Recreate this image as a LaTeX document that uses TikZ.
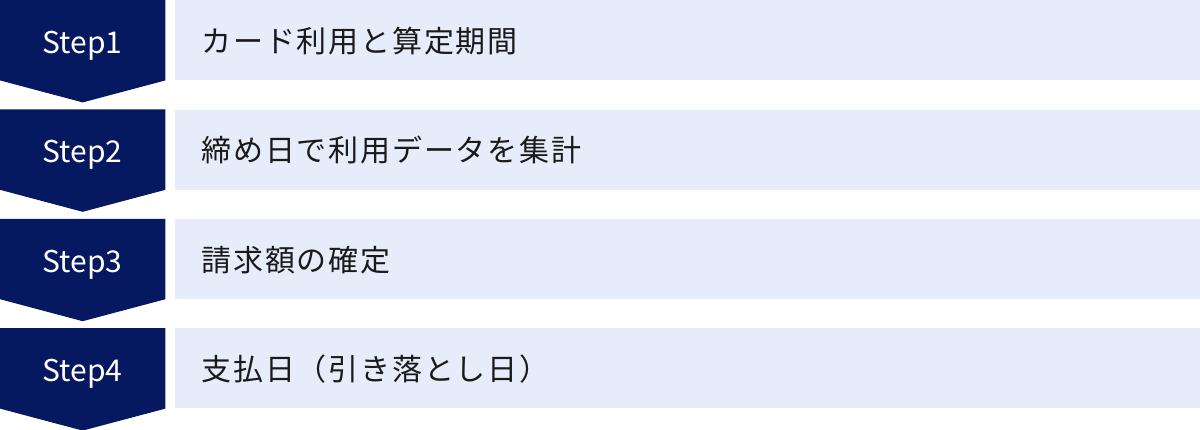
\documentclass[tikz,border=0pt]{standalone}
\usepackage{fontspec}
\setmainfont{Noto Sans CJK JP}
\newfontfamily\labelfont[LetterSpace=6]{Noto Sans CJK JP}
\usepackage{xcolor}
\definecolor{stepNavy}{HTML}{061860}
\definecolor{barLight}{HTML}{E6ECFA}
\definecolor{textDark}{HTML}{1A1A1A}
\usepackage{tikz}
\usetikzlibrary{positioning, calc, backgrounds}

\begin{document}
\begin{tikzpicture}[
    x=1pt, y=-1pt,
    node distance=29pt,
    stepbox/.style={
        rectangle,
        inner sep=0pt,
        minimum width=165pt,
        minimum height=80pt,
        text height=26pt,
        text depth=0pt,
        text=white,
        font=\fontsize{30}{36}\selectfont
    },
    bar/.style={
        fill=barLight,
        rectangle,
        inner sep=0pt,
        minimum width=1026pt,
        minimum height=80pt
    },
    label/.style={
        text=textDark,
        inner sep=0pt,
        anchor=base west,
        font=\labelfont\fontsize{30}{36}\selectfont
    },
    tip/.style={
        fill=stepNavy
    }
]

\useasboundingbox (0,0) rectangle (1200,429);

\node[stepbox, anchor=north west] (s1) at (0,0) {Step1};
\node[stepbox, below=of s1] (s2) {Step2};
\node[stepbox, below=of s2] (s3) {Step3};
\node[stepbox, below=of s3] (s4) {Step4};

% Step shapes with arrow points
\begin{scope}[on background layer]
\fill[tip] (s1.north west) -- (s1.north east) -- (s1.south east) -- ($(s1.south)+(0,22)$) -- (s1.south west) -- cycle;
\fill[tip] (s2.north west) -- (s2.north east) -- (s2.south east) -- ($(s2.south)+(0,22)$) -- (s2.south west) -- cycle;
\fill[tip] (s3.north west) -- (s3.north east) -- (s3.south east) -- ($(s3.south)+(0,22)$) -- (s3.south west) -- cycle;
\fill[tip] (s4.north west) -- (s4.north east) -- (s4.south east) -- ($(s4.south)+(0,22)$) -- (s4.south west) -- cycle;
\end{scope}

% Bars
\node[bar, right=9pt of s1] (b1) {};
\node[bar, right=9pt of s2] (b2) {};
\node[bar, right=9pt of s3] (b3) {};
\node[bar, right=9pt of s4] (b4) {};

\node[label] (t1) at ([xshift=27pt, yshift=-12pt]b1.west) {カード利用と算定期間};
\node[label] (t2) at ([xshift=27pt, yshift=-12pt]b2.west) {締め日で利用データを集計};
\node[label] (t3) at ([xshift=27pt, yshift=-12pt]b3.west) {請求額の確定};
\node[label] (t4) at ([xshift=27pt, yshift=-12pt]b4.west) {支払日（引き落とし日）};

\end{tikzpicture}
\end{document}
